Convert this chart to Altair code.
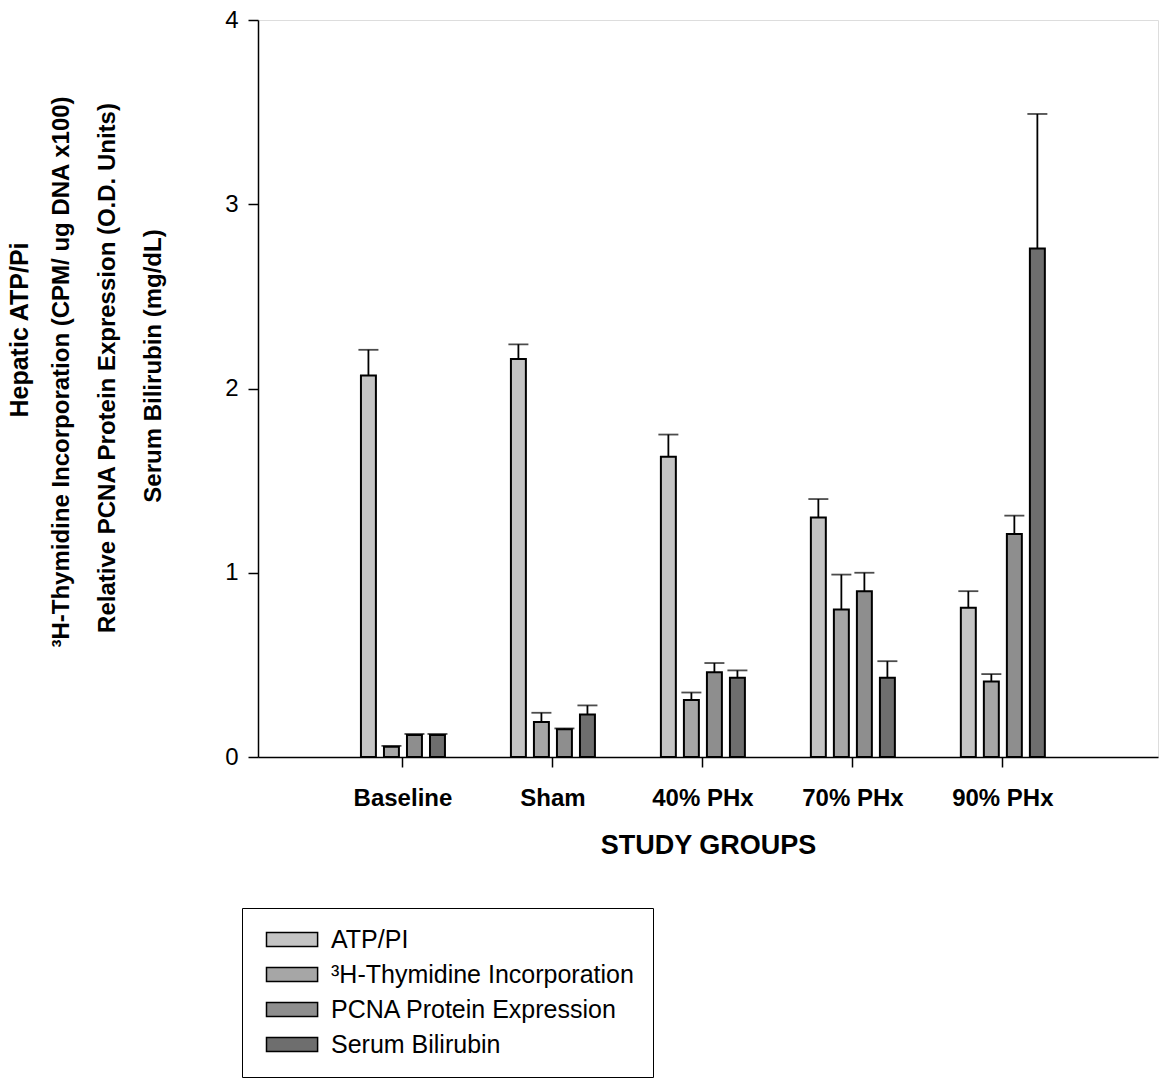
import altair as alt
import pandas as pd

groups = ["Baseline", "Sham", "40% PHx", "70% PHx", "90% PHx"]
series = ["ATP/PI", "³H-Thymidine Incorporation", "PCNA Protein Expression", "Serum Bilirubin"]

atp = [2.07, 2.16, 1.63, 1.30, 0.81]
atp_se = [0.14, 0.08, 0.12, 0.10, 0.09]
thym = [0.055, 0.19, 0.31, 0.80, 0.41]
thym_se = [0.005, 0.05, 0.04, 0.19, 0.04]
pcna = [0.12, 0.15, 0.46, 0.90, 1.21]
pcna_se = [0.005, 0.005, 0.05, 0.10, 0.10]
bili = [0.12, 0.23, 0.43, 0.43, 2.76]
bili_se = [0.005, 0.05, 0.04, 0.09, 0.73]

fills = ["#c4c4c4", "#a6a6a6", "#8e8e8e", "#6e6e6e"]

y_title_lines = [
    "Hepatic ATP/Pi",
    "³H-Thymidine Incorporation (CPM/ ug DNA x100)",
    "Relative PCNA Protein Expression (O.D. Units)",
    "Serum Bilirubin (mg/dL)",
]

rows = []
for s, vals, ses in zip(series, [atp, thym, pcna, bili], [atp_se, thym_se, pcna_se, bili_se]):
    for g, v, e in zip(groups, vals, ses):
        rows.append({"group": g, "series": s, "value": v, "top": v + e})
df = pd.DataFrame(rows)

FONT = "Liberation Sans"

x_enc = alt.X(
    "group:N",
    sort=groups,
    scale=alt.Scale(paddingInner=0.133, paddingOuter=0.567, align=0.47),
    axis=alt.Axis(
        title="STUDY GROUPS",
        labelAngle=0,
        labelFont=FONT,
        labelFontSize=24,
        labelFontWeight="bold",
        labelColor="black",
        labelPadding=19,
        tickSize=10,
        tickColor="black",
        tickWidth=1.5,
        domainColor="black",
        domainWidth=1.5,
        titleFont=FONT,
        titleFontSize=27,
        titleFontWeight="bold",
        titleColor="black",
        titlePadding=22,
    ),
)
xo_enc = alt.XOffset(
    "series:N", sort=series, scale=alt.Scale(paddingInner=0.35, paddingOuter=1.0)
)
y_scale = alt.Scale(domain=[0, 4])

bars = alt.Chart(df).mark_bar(stroke="black", strokeWidth=2).encode(
    x=x_enc,
    xOffset=xo_enc,
    y=alt.Y(
        "value:Q",
        scale=y_scale,
        axis=alt.Axis(
            title=None,
            values=[0, 1, 2, 3, 4],
            format="d",
            grid=False,
            labelFont=FONT,
            labelFontSize=24,
            labelColor="black",
            labelPadding=10,
            tickSize=10,
            tickColor="black",
            tickWidth=1.5,
            domainColor="black",
            domainWidth=1.5,
        ),
    ),
    fill=alt.Fill(
        "series:N",
        sort=series,
        scale=alt.Scale(domain=series, range=fills),
        legend=alt.Legend(
            title=None,
            orient="none",
            legendX=-16,
            legendY=888,
            strokeColor="black",
            fillColor="white",
            padding=19,
            symbolType="M-1,-1H6.3V1H-1Z",
            symbolSize=196,
            symbolStrokeColor="black",
            symbolStrokeWidth=1.5,
            symbolOpacity=1,
            labelOffset=45,
            labelFont=FONT,
            labelFontSize=25,
            labelColor="black",
            labelLimit=500,
            rowPadding=9,
        ),
    ),
)

rules = alt.Chart(df).mark_rule(color="black", strokeWidth=1.8).encode(
    x=x_enc, xOffset=xo_enc, y=alt.Y("value:Q", scale=y_scale), y2="top:Q"
)
caps = alt.Chart(df).mark_tick(color="black", thickness=1.8, size=20).encode(
    x=x_enc, xOffset=xo_enc, y=alt.Y("top:Q", scale=y_scale)
)

title_x = [-238, -196, -150, -104]
title_y = [310, 352, 348, 346]
title_size = [25, 24, 24, 24]
texts = []
for t, xv, yv, fs in zip(y_title_lines, title_x, title_y, title_size):
    texts.append(
        alt.Chart(pd.DataFrame({"t": [t]}))
        .mark_text(angle=270, font=FONT, fontSize=fs, fontWeight="bold", color="black",
                   align="center", baseline="middle")
        .encode(x=alt.value(xv), y=alt.value(yv), text="t:N")
    )

chart = alt.layer(bars, rules, caps, *texts).properties(
    width=900,
    height=737,
    autosize=alt.AutoSizeParams(type="none"),
    padding={"left": 258, "top": 20, "right": 7, "bottom": 332},
).configure_view(stroke="black", strokeWidth=1.5).configure(background="white")

chart.save("out.html", embed_options={"renderer": "svg", "actions": False})
